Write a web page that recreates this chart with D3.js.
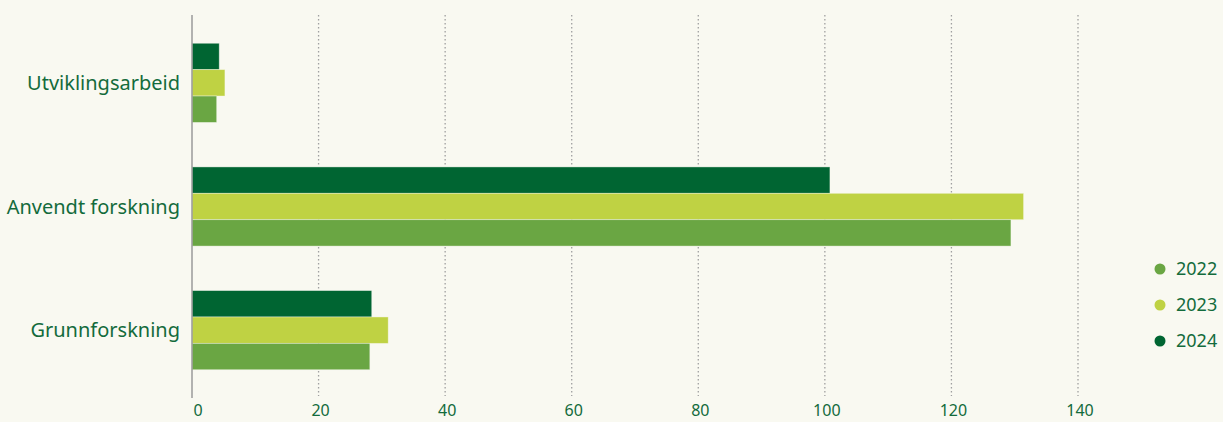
<!DOCTYPE html>
<html>
<head>
<meta charset="utf-8">
<script src="https://cdn.jsdelivr.net/npm/d3@7"></script>
<style>
  body { margin: 0; background: #f9f9f1; }
  svg { display: block; font-family: "Noto Sans", sans-serif; }
</style>
</head>
<body>
<svg id="chart" width="1223" height="422"></svg>
<script>
var categories = ['Utviklingsarbeid', 'Anvendt forskning', 'Grunnforskning'];
var years = ['2024', '2023', '2022'];
var v2022 = [3.9, 129.4, 28.1];
var v2023 = [5.2, 131.4, 31.0];
var v2024 = [4.3, 100.8, 28.4];
var ticks = [0, 20, 40, 60, 80, 100, 120, 140];
var colors = { '2022': '#6aa643', '2023': '#bfd243', '2024': '#006532' };
var textColor = '#136b3c';

var valuesByYear = { '2022': v2022, '2023': v2023, '2024': v2024 };

var svg = d3.select('#chart');

var x = d3.scaleLinear().domain([0, 140]).range([192, 1078]);
var y = d3.scaleBand().domain(categories).range([21, 392])
  .paddingInner(0.36).paddingOuter(0.18);
var yInner = d3.scaleBand().domain(years).range([0, y.bandwidth()]);

// grid
svg.append('g')
  .selectAll('line')
  .data(ticks.filter(d => d > 0))
  .enter()
  .append('line')
  .attr('x1', d => x(d)).attr('x2', d => x(d))
  .attr('y1', 15).attr('y2', 396)
  .attr('stroke', '#a0a0a0')
  .attr('stroke-width', 1.3)
  .attr('stroke-dasharray', '1.5,2.5');

// bars
var groups = svg.append('g')
  .selectAll('g')
  .data(categories)
  .enter()
  .append('g')
  .attr('transform', d => 'translate(0,' + y(d) + ')');

groups.selectAll('rect')
  .data((d, i) => years.map(yr => ({ year: yr, value: valuesByYear[yr][i] })))
  .enter()
  .append('rect')
  .attr('x', x(0))
  .attr('y', d => yInner(d.year))
  .attr('width', d => x(d.value) - x(0))
  .attr('height', yInner.bandwidth())
  .attr('fill', d => colors[d.year])
  .attr('stroke', '#f9f9f1')
  .attr('stroke-opacity', 0.5)
  .attr('stroke-width', 0.8);

// axis line
svg.append('line')
  .attr('x1', x(0)).attr('x2', x(0))
  .attr('y1', 15).attr('y2', 398)
  .attr('stroke', '#9a9a9a')
  .attr('stroke-width', 1.5);

// tick labels
svg.append('g')
  .selectAll('text')
  .data(ticks)
  .enter()
  .append('text')
  .attr('x', d => x(d) + (d === 0 ? 6 : 2))
  .attr('y', 416)
  .attr('text-anchor', 'middle')
  .attr('fill', textColor)
  .attr('font-size', 16)
  .text(d => d);

// category labels
svg.append('g')
  .selectAll('text')
  .data(categories)
  .enter()
  .append('text')
  .attr('x', 180)
  .attr('y', d => y(d) + y.bandwidth() / 2)
  .attr('dy', '0.35em')
  .attr('text-anchor', 'end')
  .attr('fill', textColor)
  .attr('font-size', 20)
  .text(d => d);

// legend
var legendYears = ['2022', '2023', '2024'];
var legend = svg.append('g')
  .selectAll('g')
  .data(legendYears)
  .enter()
  .append('g')
  .attr('transform', (d, i) => 'translate(1160,' + (269 + i * 36) + ')');

legend.append('circle')
  .attr('r', 5.5)
  .attr('fill', d => colors[d]);

legend.append('text')
  .attr('x', 16)
  .attr('dy', '0.35em')
  .attr('fill', textColor)
  .attr('font-size', 18)
  .text(d => d);
</script>
</body>
</html>
